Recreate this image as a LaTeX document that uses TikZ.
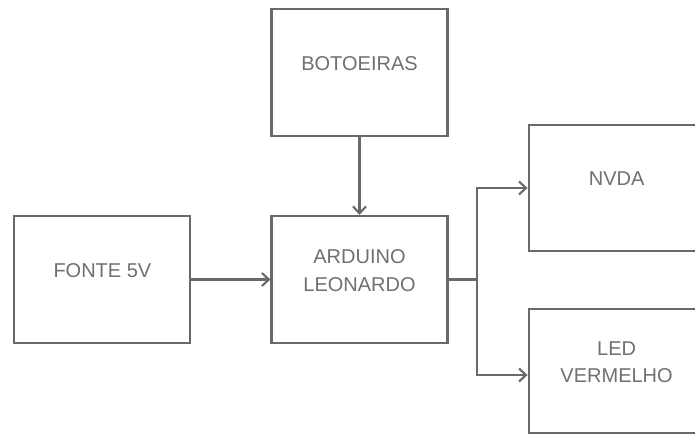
\documentclass[tikz,border=0pt]{standalone}
\usepackage{fontspec}
\setmainfont{Liberation Sans}
\usetikzlibrary{positioning,arrows.meta}
\definecolor{linegray}{RGB}{105,105,105}
\definecolor{textgray}{RGB}{112,112,112}

\begin{document}
\begin{tikzpicture}[x=1pt,y=-1pt,
	block/.style={draw=linegray,line width=2.1pt,minimum width=176pt,minimum height=127pt,
		align=center,text=textgray,font=\fontsize{20}{27.5}\selectfont,text depth=18pt},
	link/.style={draw=linegray,line width=2.1pt,-{Straight Barb[length=7pt,width=13pt]}}]
\useasboundingbox (0,0) rectangle (695,435);
\fill[white] (0,0) rectangle (695,435);
\node [block] (ard) at (359.5,279.5) {ARDUINO\\LEONARDO};
\node [block,left=79pt of ard] (fonte) {FONTE 5V};
\node [block,above=78pt of ard] (bot) {BOTOEIRAS};
\node [block,minimum height=126pt,right=79pt of ard,yshift=91.5pt] (nvda) {NVDA};
\node [block,minimum height=124pt,right=79pt of ard,yshift=-91.5pt] (led) {LED\\VERMELHO};
\coordinate (split) at (477,279.5);
	\draw [link] (bot) to (ard);
	\draw [link] (fonte) to (ard);
	\draw [draw=linegray,line width=2.1pt] (ard.east) to (split);
	\draw [link] (split) |- (nvda.west);
	\draw [link] (split) |- ([yshift=-4pt]led.west);
\end{tikzpicture}
\end{document}
